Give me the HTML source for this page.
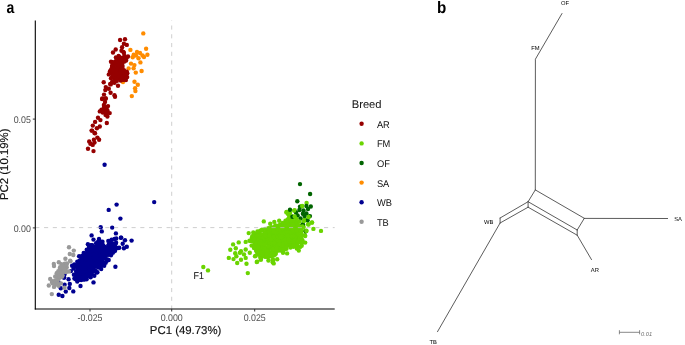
<!DOCTYPE html>
<html><head><meta charset="utf-8"><title>Figure</title>
<style>
html,body{margin:0;padding:0;background:#fff;}
body{width:685px;height:345px;overflow:hidden;font-family:"Liberation Sans",sans-serif;}
svg{display:block}
text{font-family:"Liberation Sans",sans-serif;text-rendering:geometricPrecision;}
.tk{font-size:9.7px;fill:#4d4d4d;}
.ti{font-size:11.4px;fill:#111;stroke:#111;stroke-width:0.15px;}
.lg{font-size:9.7px;fill:#111;}
.pn{font-size:16.5px;font-weight:bold;fill:#000;}
.nl{font-size:5.8px;fill:#000;}
</style></head><body>
<svg width="685" height="345" viewBox="0 0 685 345">
<rect width="685" height="345" fill="#fff"/>
<!-- panel labels -->
<text transform="translate(6.6,12.8) scale(0.85,1)" class="pn">a</text>
<text transform="translate(437.1,12.8) scale(0.92,1)" class="pn">b</text>
<!-- points -->
<g fill="#FF8C00"><circle cx="143.3" cy="33.4" r="2.2"/><circle cx="146.1" cy="48.7" r="2.2"/><circle cx="130.4" cy="49.9" r="2.2"/><circle cx="147.4" cy="54.8" r="2.2"/><circle cx="137" cy="52" r="2.2"/><circle cx="140" cy="53" r="2.2"/><circle cx="133.7" cy="54.7" r="2.2"/><circle cx="144" cy="57" r="2.2"/><circle cx="138.5" cy="58.2" r="2.2"/><circle cx="132.7" cy="57.3" r="2.2"/><circle cx="140.4" cy="62.4" r="2.2"/><circle cx="131" cy="63.6" r="2.2"/><circle cx="134.4" cy="65.1" r="2.2"/><circle cx="133.6" cy="68.2" r="2.2"/><circle cx="141.6" cy="71" r="2.2"/><circle cx="135.8" cy="72.6" r="2.2"/><circle cx="128.6" cy="68.4" r="2.2"/><circle cx="134.5" cy="81.7" r="2.2"/><circle cx="137.8" cy="84.7" r="2.2"/><circle cx="135.1" cy="88.2" r="2.2"/><circle cx="135.4" cy="91.1" r="2.2"/><circle cx="131.8" cy="96.1" r="2.2"/><circle cx="123" cy="82" r="2.2"/><circle cx="142.5" cy="55.5" r="2.2"/><circle cx="136" cy="55.5" r="2.2"/></g>
<g fill="#960000"><circle cx="119.8" cy="74.5" r="2.2"/><circle cx="114.8" cy="63.7" r="2.2"/><circle cx="123.7" cy="59.7" r="2.2"/><circle cx="126.2" cy="75.0" r="2.2"/><circle cx="114.5" cy="73.8" r="2.2"/><circle cx="123.7" cy="78.0" r="2.2"/><circle cx="113.8" cy="82.1" r="2.2"/><circle cx="119.6" cy="57.2" r="2.2"/><circle cx="112.7" cy="67.3" r="2.2"/><circle cx="122.8" cy="75.5" r="2.2"/><circle cx="120.9" cy="62.5" r="2.2"/><circle cx="120.0" cy="64.7" r="2.2"/><circle cx="119.1" cy="73.2" r="2.2"/><circle cx="121.7" cy="70.9" r="2.2"/><circle cx="121.0" cy="77.8" r="2.2"/><circle cx="116.7" cy="74.0" r="2.2"/><circle cx="112.5" cy="81.7" r="2.2"/><circle cx="124.4" cy="61.5" r="2.2"/><circle cx="117.6" cy="78.7" r="2.2"/><circle cx="123.6" cy="70.8" r="2.2"/><circle cx="115.9" cy="57.5" r="2.2"/><circle cx="119.3" cy="76.8" r="2.2"/><circle cx="118.4" cy="75.5" r="2.2"/><circle cx="123.9" cy="53.0" r="2.2"/><circle cx="115.7" cy="61.3" r="2.2"/><circle cx="112.4" cy="74.6" r="2.2"/><circle cx="112.5" cy="66.3" r="2.2"/><circle cx="116.6" cy="64.8" r="2.2"/><circle cx="112.3" cy="62.1" r="2.2"/><circle cx="123.9" cy="70.1" r="2.2"/><circle cx="119.5" cy="63.8" r="2.2"/><circle cx="120.0" cy="59.1" r="2.2"/><circle cx="124.4" cy="55.9" r="2.2"/><circle cx="116.8" cy="80.9" r="2.2"/><circle cx="112.1" cy="77.3" r="2.2"/><circle cx="126.1" cy="60.6" r="2.2"/><circle cx="112.1" cy="65.8" r="2.2"/><circle cx="114.7" cy="79.0" r="2.2"/><circle cx="120.1" cy="57.8" r="2.2"/><circle cx="122.3" cy="65.4" r="2.2"/><circle cx="119.1" cy="69.5" r="2.2"/><circle cx="120.5" cy="69.0" r="2.2"/><circle cx="123.9" cy="73.1" r="2.2"/><circle cx="111.9" cy="68.0" r="2.2"/><circle cx="126.5" cy="57.9" r="2.2"/><circle cx="114.0" cy="65.4" r="2.2"/><circle cx="114.4" cy="81.0" r="2.2"/><circle cx="122.2" cy="60.8" r="2.2"/><circle cx="122.2" cy="63.7" r="2.2"/><circle cx="127.3" cy="73.3" r="2.2"/><circle cx="110.0" cy="71.2" r="2.2"/><circle cx="117.8" cy="72.2" r="2.2"/><circle cx="123.2" cy="78.0" r="2.2"/><circle cx="119.3" cy="61.0" r="2.2"/><circle cx="119.0" cy="67.3" r="2.2"/><circle cx="112.7" cy="73.9" r="2.2"/><circle cx="118.2" cy="57.8" r="2.2"/><circle cx="123.4" cy="79.9" r="2.2"/><circle cx="118.1" cy="60.7" r="2.2"/><circle cx="113.8" cy="76.6" r="2.2"/><circle cx="114.6" cy="68.2" r="2.2"/><circle cx="110.7" cy="84.4" r="2.2"/><circle cx="112.1" cy="82.2" r="2.2"/><circle cx="116.0" cy="69.2" r="2.2"/><circle cx="113.1" cy="62.5" r="2.2"/><circle cx="116.0" cy="77.0" r="2.2"/><circle cx="123.8" cy="77.1" r="2.2"/><circle cx="122.4" cy="58.0" r="2.2"/><circle cx="115.1" cy="70.1" r="2.2"/><circle cx="120.5" cy="72.2" r="2.2"/><circle cx="124.9" cy="75.1" r="2.2"/><circle cx="113.1" cy="71.1" r="2.2"/><circle cx="121.3" cy="73.0" r="2.2"/><circle cx="127.2" cy="77.1" r="2.2"/><circle cx="110.3" cy="72.0" r="2.2"/><circle cx="115.9" cy="74.6" r="2.2"/><circle cx="117.4" cy="67.5" r="2.2"/><circle cx="117.1" cy="62.8" r="2.2"/><circle cx="114.5" cy="71.0" r="2.2"/><circle cx="122.5" cy="66.9" r="2.2"/><circle cx="111.1" cy="69.8" r="2.2"/><circle cx="118.1" cy="65.0" r="2.2"/><circle cx="120.1" cy="40" r="2.2"/><circle cx="125" cy="39.2" r="2.2"/><circle cx="123.9" cy="43.7" r="2.2"/><circle cx="126.8" cy="44.9" r="2.2"/><circle cx="122.1" cy="47.2" r="2.2"/><circle cx="115.7" cy="49.5" r="2.2"/><circle cx="113" cy="52.5" r="2.2"/><circle cx="121.5" cy="50.7" r="2.2"/><circle cx="123.5" cy="52" r="2.2"/><circle cx="118.6" cy="56" r="2.2"/><circle cx="128" cy="56.5" r="2.2"/><circle cx="111" cy="61.8" r="2.2"/><circle cx="103.7" cy="82.3" r="2.2"/><circle cx="110.2" cy="84" r="2.2"/><circle cx="114.5" cy="82.7" r="2.2"/><circle cx="118" cy="85.8" r="2.2"/><circle cx="105.8" cy="87.1" r="2.2"/><circle cx="108.8" cy="88.8" r="2.2"/><circle cx="105.3" cy="90.1" r="2.2"/><circle cx="110.6" cy="92.8" r="2.2"/><circle cx="104" cy="94.6" r="2.2"/><circle cx="114.5" cy="95.3" r="2.2"/><circle cx="102.3" cy="98.5" r="2.2"/><circle cx="105.8" cy="98.5" r="2.2"/><circle cx="125.9" cy="80.1" r="2.2"/><circle cx="122.4" cy="77" r="2.2"/><circle cx="126.8" cy="71.8" r="2.2"/><circle cx="120.7" cy="80.5" r="2.2"/><circle cx="116.3" cy="79.6" r="2.2"/><circle cx="108.8" cy="74.4" r="2.2"/><circle cx="111" cy="78.3" r="2.2"/><circle cx="115" cy="96.8" r="2.2"/><circle cx="102.1" cy="99.1" r="2.2"/><circle cx="105.6" cy="98.5" r="2.2"/><circle cx="105" cy="102" r="2.2"/><circle cx="103.9" cy="104.9" r="2.2"/><circle cx="108" cy="106.1" r="2.2"/><circle cx="99.8" cy="111.4" r="2.2"/><circle cx="105" cy="109.6" r="2.2"/><circle cx="107.4" cy="110.2" r="2.2"/><circle cx="109.7" cy="113.1" r="2.2"/><circle cx="105.6" cy="114.9" r="2.2"/><circle cx="107.4" cy="116.6" r="2.2"/><circle cx="98" cy="117.8" r="2.2"/><circle cx="100.4" cy="120.1" r="2.2"/><circle cx="95.1" cy="121.9" r="2.2"/><circle cx="106.8" cy="123" r="2.2"/><circle cx="92.8" cy="125.6" r="2.2"/><circle cx="99.8" cy="126.5" r="2.2"/><circle cx="96.9" cy="128.3" r="2.2"/><circle cx="91.6" cy="130.6" r="2.2"/><circle cx="94.5" cy="133" r="2.2"/><circle cx="101.5" cy="109.6" r="2.2"/><circle cx="106.5" cy="107.5" r="2.2"/><circle cx="104" cy="107" r="2.2"/><circle cx="102.8" cy="112.5" r="2.2"/><circle cx="104.5" cy="112" r="2.2"/><circle cx="107" cy="113" r="2.2"/><circle cx="92.1" cy="130.6" r="2.2"/><circle cx="95" cy="133.3" r="2.2"/><circle cx="97.4" cy="137.6" r="2.2"/><circle cx="99.1" cy="139.7" r="2.2"/><circle cx="93.9" cy="139.7" r="2.2"/><circle cx="89.2" cy="141.4" r="2.2"/><circle cx="94.5" cy="142.6" r="2.2"/><circle cx="90.4" cy="143.8" r="2.2"/><circle cx="92.7" cy="144.9" r="2.2"/><circle cx="88" cy="148.8" r="2.2"/><circle cx="93.5" cy="151.1" r="2.2"/></g>
<g fill="#6AD400"><circle cx="290.0" cy="244.9" r="2.2"/><circle cx="294.6" cy="237.4" r="2.2"/><circle cx="274.4" cy="229.0" r="2.2"/><circle cx="259.5" cy="233.6" r="2.2"/><circle cx="277.8" cy="234.6" r="2.2"/><circle cx="251.6" cy="245.6" r="2.2"/><circle cx="286.3" cy="235.2" r="2.2"/><circle cx="268.0" cy="257.2" r="2.2"/><circle cx="296.5" cy="241.2" r="2.2"/><circle cx="278.1" cy="227.8" r="2.2"/><circle cx="278.6" cy="226.2" r="2.2"/><circle cx="265.8" cy="250.1" r="2.2"/><circle cx="260.1" cy="246.2" r="2.2"/><circle cx="290.0" cy="244.2" r="2.2"/><circle cx="304.9" cy="235.3" r="2.2"/><circle cx="273.6" cy="239.6" r="2.2"/><circle cx="262.2" cy="253.2" r="2.2"/><circle cx="268.3" cy="252.1" r="2.2"/><circle cx="291.7" cy="229.4" r="2.2"/><circle cx="277.8" cy="230.7" r="2.2"/><circle cx="262.7" cy="235.8" r="2.2"/><circle cx="295.1" cy="234.5" r="2.2"/><circle cx="278.9" cy="245.6" r="2.2"/><circle cx="264.2" cy="239.5" r="2.2"/><circle cx="300.9" cy="229.4" r="2.2"/><circle cx="270.1" cy="233.0" r="2.2"/><circle cx="280.6" cy="242.2" r="2.2"/><circle cx="267.7" cy="234.3" r="2.2"/><circle cx="280.9" cy="245.4" r="2.2"/><circle cx="249.5" cy="240.8" r="2.2"/><circle cx="256.2" cy="250.9" r="2.2"/><circle cx="257.6" cy="239.6" r="2.2"/><circle cx="259.6" cy="247.4" r="2.2"/><circle cx="266.2" cy="232.3" r="2.2"/><circle cx="268.2" cy="232.0" r="2.2"/><circle cx="279.8" cy="226.3" r="2.2"/><circle cx="284.5" cy="249.2" r="2.2"/><circle cx="295.7" cy="229.1" r="2.2"/><circle cx="275.8" cy="253.7" r="2.2"/><circle cx="280.2" cy="239.2" r="2.2"/><circle cx="297.8" cy="240.0" r="2.2"/><circle cx="294.1" cy="223.2" r="2.2"/><circle cx="301.1" cy="226.5" r="2.2"/><circle cx="301.3" cy="238.5" r="2.2"/><circle cx="265.8" cy="237.8" r="2.2"/><circle cx="297.2" cy="228.2" r="2.2"/><circle cx="254.6" cy="238.7" r="2.2"/><circle cx="301.9" cy="230.5" r="2.2"/><circle cx="255.5" cy="236.2" r="2.2"/><circle cx="258.9" cy="240.3" r="2.2"/><circle cx="260.2" cy="257.0" r="2.2"/><circle cx="274.8" cy="242.1" r="2.2"/><circle cx="292.0" cy="222.9" r="2.2"/><circle cx="301.3" cy="233.4" r="2.2"/><circle cx="291.3" cy="238.3" r="2.2"/><circle cx="262.2" cy="249.1" r="2.2"/><circle cx="269.8" cy="256.3" r="2.2"/><circle cx="288.9" cy="215.2" r="2.2"/><circle cx="294.5" cy="242.8" r="2.2"/><circle cx="284.9" cy="246.0" r="2.2"/><circle cx="297.3" cy="223.0" r="2.2"/><circle cx="288.9" cy="227.7" r="2.2"/><circle cx="255.1" cy="239.8" r="2.2"/><circle cx="261.6" cy="242.8" r="2.2"/><circle cx="290.9" cy="232.9" r="2.2"/><circle cx="258.3" cy="252.8" r="2.2"/><circle cx="283.1" cy="234.7" r="2.2"/><circle cx="287.4" cy="230.1" r="2.2"/><circle cx="264.4" cy="240.9" r="2.2"/><circle cx="271.2" cy="233.3" r="2.2"/><circle cx="280.0" cy="248.2" r="2.2"/><circle cx="257.2" cy="252.5" r="2.2"/><circle cx="280.9" cy="239.9" r="2.2"/><circle cx="264.7" cy="245.9" r="2.2"/><circle cx="283.2" cy="238.7" r="2.2"/><circle cx="275.2" cy="225.7" r="2.2"/><circle cx="262.2" cy="250.3" r="2.2"/><circle cx="268.0" cy="252.9" r="2.2"/><circle cx="290.7" cy="226.9" r="2.2"/><circle cx="296.8" cy="245.3" r="2.2"/><circle cx="291.1" cy="233.7" r="2.2"/><circle cx="283.3" cy="250.4" r="2.2"/><circle cx="283.4" cy="231.8" r="2.2"/><circle cx="302.4" cy="240.1" r="2.2"/><circle cx="275.9" cy="251.4" r="2.2"/><circle cx="260.1" cy="238.4" r="2.2"/><circle cx="254.3" cy="245.5" r="2.2"/><circle cx="269.9" cy="252.1" r="2.2"/><circle cx="279.8" cy="234.6" r="2.2"/><circle cx="293.7" cy="233.5" r="2.2"/><circle cx="264.7" cy="255.5" r="2.2"/><circle cx="257.1" cy="237.9" r="2.2"/><circle cx="298.8" cy="231.5" r="2.2"/><circle cx="297.3" cy="243.8" r="2.2"/><circle cx="265.2" cy="256.9" r="2.2"/><circle cx="289.9" cy="230.7" r="2.2"/><circle cx="285.6" cy="222.2" r="2.2"/><circle cx="301.4" cy="236.4" r="2.2"/><circle cx="273.6" cy="234.4" r="2.2"/><circle cx="287.9" cy="245.4" r="2.2"/><circle cx="289.6" cy="222.8" r="2.2"/><circle cx="276.2" cy="237.7" r="2.2"/><circle cx="295.8" cy="222.4" r="2.2"/><circle cx="262.4" cy="238.9" r="2.2"/><circle cx="252.0" cy="241.2" r="2.2"/><circle cx="299.5" cy="236.5" r="2.2"/><circle cx="279.4" cy="232.2" r="2.2"/><circle cx="277.5" cy="232.1" r="2.2"/><circle cx="285.5" cy="230.9" r="2.2"/><circle cx="269.7" cy="254.0" r="2.2"/><circle cx="282.0" cy="225.5" r="2.2"/><circle cx="284.6" cy="243.3" r="2.2"/><circle cx="274.5" cy="247.6" r="2.2"/><circle cx="287.9" cy="243.8" r="2.2"/><circle cx="280.9" cy="224.6" r="2.2"/><circle cx="283.2" cy="223.8" r="2.2"/><circle cx="271.4" cy="245.5" r="2.2"/><circle cx="296.8" cy="248.5" r="2.2"/><circle cx="286.5" cy="248.7" r="2.2"/><circle cx="251.8" cy="237.9" r="2.2"/><circle cx="295.1" cy="236.2" r="2.2"/><circle cx="296.3" cy="225.9" r="2.2"/><circle cx="287.7" cy="219.4" r="2.2"/><circle cx="254.1" cy="242.1" r="2.2"/><circle cx="292.4" cy="216.5" r="2.2"/><circle cx="256.6" cy="233.8" r="2.2"/><circle cx="269.2" cy="248.6" r="2.2"/><circle cx="290.8" cy="239.9" r="2.2"/><circle cx="267.4" cy="238.6" r="2.2"/><circle cx="286.7" cy="240.2" r="2.2"/><circle cx="298.0" cy="231.5" r="2.2"/><circle cx="259.0" cy="249.4" r="2.2"/><circle cx="269.7" cy="244.6" r="2.2"/><circle cx="262.4" cy="246.1" r="2.2"/><circle cx="284.2" cy="235.6" r="2.2"/><circle cx="276.7" cy="225.8" r="2.2"/><circle cx="285.5" cy="220.8" r="2.2"/><circle cx="258.0" cy="242.1" r="2.2"/><circle cx="284.7" cy="233.1" r="2.2"/><circle cx="268.1" cy="249.4" r="2.2"/><circle cx="276.7" cy="230.4" r="2.2"/><circle cx="254.5" cy="247.5" r="2.2"/><circle cx="256.7" cy="246.2" r="2.2"/><circle cx="270.0" cy="228.5" r="2.2"/><circle cx="281.5" cy="246.6" r="2.2"/><circle cx="298.0" cy="237.8" r="2.2"/><circle cx="284.6" cy="241.9" r="2.2"/><circle cx="288.0" cy="233.3" r="2.2"/><circle cx="273.4" cy="252.6" r="2.2"/><circle cx="272.3" cy="248.0" r="2.2"/><circle cx="273.2" cy="255.8" r="2.2"/><circle cx="261.6" cy="255.3" r="2.2"/><circle cx="281.3" cy="244.3" r="2.2"/><circle cx="260.4" cy="254.7" r="2.2"/><circle cx="263.7" cy="242.4" r="2.2"/><circle cx="274.8" cy="230.6" r="2.2"/><circle cx="288.9" cy="234.4" r="2.2"/><circle cx="258.3" cy="237.8" r="2.2"/><circle cx="260.6" cy="250.1" r="2.2"/><circle cx="282.4" cy="242.1" r="2.2"/><circle cx="269.2" cy="237.2" r="2.2"/><circle cx="298.4" cy="240.0" r="2.2"/><circle cx="271.4" cy="256.1" r="2.2"/><circle cx="289.8" cy="236.0" r="2.2"/><circle cx="295.7" cy="231.6" r="2.2"/><circle cx="260.4" cy="234.4" r="2.2"/><circle cx="274.8" cy="227.1" r="2.2"/><circle cx="296.3" cy="235.5" r="2.2"/><circle cx="283.0" cy="252.7" r="2.2"/><circle cx="275.8" cy="233.8" r="2.2"/><circle cx="279.8" cy="228.6" r="2.2"/><circle cx="287.1" cy="226.0" r="2.2"/><circle cx="261.9" cy="247.6" r="2.2"/><circle cx="270.2" cy="247.2" r="2.2"/><circle cx="265.6" cy="247.9" r="2.2"/><circle cx="286.4" cy="223.3" r="2.2"/><circle cx="260.5" cy="236.8" r="2.2"/><circle cx="275.6" cy="242.5" r="2.2"/><circle cx="260.9" cy="241.6" r="2.2"/><circle cx="291.3" cy="227.7" r="2.2"/><circle cx="287.8" cy="213.5" r="2.2"/><circle cx="284.7" cy="226.4" r="2.2"/><circle cx="288.8" cy="232.7" r="2.2"/><circle cx="297.0" cy="246.2" r="2.2"/><circle cx="292.9" cy="231.8" r="2.2"/><circle cx="292.9" cy="243.1" r="2.2"/><circle cx="277.9" cy="250.4" r="2.2"/><circle cx="284.7" cy="229.0" r="2.2"/><circle cx="275.9" cy="238.9" r="2.2"/><circle cx="265.4" cy="243.4" r="2.2"/><circle cx="284.3" cy="237.8" r="2.2"/><circle cx="254.8" cy="246.2" r="2.2"/><circle cx="263.6" cy="250.9" r="2.2"/><circle cx="276.7" cy="239.4" r="2.2"/><circle cx="266.6" cy="250.7" r="2.2"/><circle cx="273.5" cy="243.2" r="2.2"/><circle cx="256.5" cy="250.2" r="2.2"/><circle cx="288.6" cy="219.7" r="2.2"/><circle cx="278.8" cy="250.3" r="2.2"/><circle cx="271.3" cy="229.3" r="2.2"/><circle cx="269.9" cy="234.1" r="2.2"/><circle cx="258.3" cy="254.2" r="2.2"/><circle cx="274.5" cy="245.5" r="2.2"/><circle cx="277.9" cy="243.2" r="2.2"/><circle cx="266.6" cy="240.1" r="2.2"/><circle cx="288.9" cy="213.8" r="2.2"/><circle cx="289.8" cy="240.8" r="2.2"/><circle cx="282.6" cy="223.0" r="2.2"/><circle cx="268.6" cy="243.3" r="2.2"/><circle cx="260.0" cy="251.0" r="2.2"/><circle cx="281.7" cy="232.4" r="2.2"/><circle cx="267.8" cy="241.9" r="2.2"/><circle cx="298.6" cy="241.3" r="2.2"/><circle cx="286.6" cy="237.3" r="2.2"/><circle cx="270.0" cy="230.0" r="2.2"/><circle cx="252.3" cy="236.1" r="2.2"/><circle cx="260.2" cy="244.0" r="2.2"/><circle cx="300.1" cy="246.9" r="2.2"/><circle cx="271.7" cy="248.5" r="2.2"/><circle cx="269.3" cy="241.8" r="2.2"/><circle cx="270.5" cy="243.6" r="2.2"/><circle cx="267.7" cy="230.9" r="2.2"/><circle cx="281.4" cy="249.7" r="2.2"/><circle cx="271.3" cy="236.4" r="2.2"/><circle cx="290.9" cy="220.3" r="2.2"/><circle cx="262.3" cy="237.1" r="2.2"/><circle cx="287.8" cy="241.8" r="2.2"/><circle cx="297.1" cy="224.6" r="2.2"/><circle cx="301.0" cy="228.9" r="2.2"/><circle cx="299.8" cy="242.4" r="2.2"/><circle cx="275.5" cy="232.3" r="2.2"/><circle cx="286.1" cy="227.7" r="2.2"/><circle cx="297.9" cy="234.4" r="2.2"/><circle cx="301.7" cy="241.7" r="2.2"/><circle cx="264.9" cy="247.5" r="2.2"/><circle cx="267.8" cy="238.9" r="2.2"/><circle cx="262.6" cy="234.6" r="2.2"/><circle cx="279.2" cy="220.7" r="2.2"/><circle cx="277.3" cy="247.4" r="2.2"/><circle cx="303.7" cy="227.0" r="2.2"/><circle cx="272.4" cy="241.8" r="2.2"/><circle cx="275.9" cy="244.6" r="2.2"/><circle cx="261.5" cy="252.6" r="2.2"/><circle cx="280.4" cy="236.2" r="2.2"/><circle cx="265.8" cy="236.2" r="2.2"/><circle cx="260.2" cy="230.7" r="2.2"/><circle cx="253.9" cy="233.9" r="2.2"/><circle cx="303.1" cy="242.2" r="2.2"/><circle cx="284.7" cy="239.7" r="2.2"/><circle cx="294.8" cy="224.0" r="2.2"/><circle cx="298.1" cy="230.2" r="2.2"/><circle cx="293.0" cy="239.1" r="2.2"/><circle cx="301.2" cy="231.7" r="2.2"/><circle cx="272.2" cy="237.2" r="2.2"/><circle cx="283.5" cy="246.8" r="2.2"/><circle cx="292.2" cy="241.8" r="2.2"/><circle cx="289.2" cy="226.9" r="2.2"/><circle cx="276.8" cy="236.3" r="2.2"/><circle cx="285.4" cy="243.2" r="2.2"/><circle cx="264.5" cy="244.3" r="2.2"/><circle cx="274.6" cy="243.0" r="2.2"/><circle cx="282.5" cy="230.9" r="2.2"/><circle cx="292.9" cy="228.0" r="2.2"/><circle cx="268.4" cy="254.2" r="2.2"/><circle cx="299.1" cy="225.5" r="2.2"/><circle cx="293.4" cy="241.5" r="2.2"/><circle cx="257.9" cy="245.2" r="2.2"/><circle cx="274.4" cy="237.8" r="2.2"/><circle cx="278.5" cy="250.1" r="2.2"/><circle cx="285.7" cy="225.0" r="2.2"/><circle cx="265.4" cy="234.3" r="2.2"/><circle cx="264.9" cy="253.4" r="2.2"/><circle cx="288.7" cy="224.8" r="2.2"/><circle cx="250.5" cy="241.1" r="2.2"/><circle cx="256.8" cy="235.6" r="2.2"/><circle cx="262.2" cy="256.2" r="2.2"/><circle cx="282.3" cy="236.4" r="2.2"/><circle cx="272.1" cy="251.9" r="2.2"/><circle cx="295.0" cy="239.0" r="2.2"/><circle cx="256.2" cy="242.1" r="2.2"/><circle cx="254.0" cy="239.0" r="2.2"/><circle cx="265.1" cy="228.9" r="2.2"/><circle cx="286.2" cy="246.9" r="2.2"/><circle cx="280.2" cy="229.9" r="2.2"/><circle cx="268.4" cy="247.0" r="2.2"/><circle cx="280.9" cy="250.5" r="2.2"/><circle cx="271.5" cy="227.2" r="2.2"/><circle cx="291.1" cy="224.6" r="2.2"/><circle cx="272.6" cy="253.0" r="2.2"/><circle cx="290.5" cy="247.6" r="2.2"/><circle cx="293.7" cy="225.6" r="2.2"/><circle cx="273.3" cy="260.0" r="2.2"/><circle cx="262.2" cy="230.5" r="2.2"/><circle cx="282.6" cy="245.3" r="2.2"/><circle cx="273.7" cy="231.4" r="2.2"/><circle cx="258.1" cy="247.0" r="2.2"/><circle cx="268.4" cy="260.6" r="2.2"/><circle cx="269.1" cy="235.3" r="2.2"/><circle cx="288.7" cy="239.6" r="2.2"/><circle cx="293.0" cy="230.3" r="2.2"/><circle cx="273.8" cy="227.8" r="2.2"/><circle cx="257.6" cy="250.9" r="2.2"/><circle cx="279.8" cy="224.9" r="2.2"/><circle cx="294.1" cy="217.2" r="2.2"/><circle cx="282.5" cy="229.1" r="2.2"/><circle cx="266.3" cy="254.2" r="2.2"/><circle cx="279.2" cy="241.0" r="2.2"/><circle cx="298.4" cy="227.4" r="2.2"/><circle cx="270.9" cy="239.2" r="2.2"/><circle cx="275.6" cy="235.9" r="2.2"/><circle cx="293.4" cy="246.7" r="2.2"/><circle cx="278.7" cy="237.2" r="2.2"/><circle cx="283.4" cy="249.6" r="2.2"/><circle cx="295.7" cy="221.6" r="2.2"/><circle cx="292.9" cy="220.2" r="2.2"/><circle cx="272.7" cy="262.3" r="2.2"/><circle cx="254.0" cy="248.0" r="2.2"/><circle cx="301.6" cy="225.4" r="2.2"/><circle cx="257.6" cy="243.5" r="2.2"/><circle cx="294.0" cy="245.3" r="2.2"/><circle cx="295.6" cy="237.0" r="2.2"/><circle cx="255.8" cy="243.6" r="2.2"/><circle cx="292.4" cy="224.6" r="2.2"/><circle cx="288.7" cy="237.1" r="2.2"/><circle cx="296.6" cy="230.3" r="2.2"/><circle cx="273.4" cy="248.8" r="2.2"/><circle cx="293.5" cy="236.0" r="2.2"/><circle cx="273.8" cy="236.4" r="2.2"/><circle cx="286.5" cy="232.1" r="2.2"/><circle cx="264.9" cy="232.8" r="2.2"/><circle cx="280.9" cy="237.0" r="2.2"/><circle cx="255.7" cy="255.7" r="2.2"/><circle cx="264.9" cy="235.1" r="2.2"/><circle cx="279.3" cy="244.1" r="2.2"/><circle cx="268.2" cy="246.3" r="2.2"/><circle cx="274.6" cy="254.9" r="2.2"/><circle cx="287.7" cy="235.6" r="2.2"/><circle cx="270.2" cy="254.9" r="2.2"/><circle cx="288.8" cy="218.7" r="2.2"/><circle cx="276.4" cy="248.7" r="2.2"/><circle cx="268.3" cy="228.1" r="2.2"/><circle cx="203.3" cy="267" r="2.2"/><circle cx="208" cy="270.4" r="2.2"/><circle cx="247.8" cy="273.1" r="2.2"/><circle cx="237.2" cy="263" r="2.2"/><circle cx="246.5" cy="263.8" r="2.2"/><circle cx="228.8" cy="257.9" r="2.2"/><circle cx="233.5" cy="259.1" r="2.2"/><circle cx="236.4" cy="256.2" r="2.2"/><circle cx="241" cy="259.7" r="2.2"/><circle cx="245.7" cy="257.9" r="2.2"/><circle cx="256.8" cy="262" r="2.2"/><circle cx="260.9" cy="259.7" r="2.2"/><circle cx="230.3" cy="249.8" r="2.2"/><circle cx="235.2" cy="253.3" r="2.2"/><circle cx="239.9" cy="252.7" r="2.2"/><circle cx="244" cy="254.4" r="2.2"/><circle cx="249.8" cy="252.7" r="2.2"/><circle cx="255" cy="256.2" r="2.2"/><circle cx="238.7" cy="242.4" r="2.2"/><circle cx="245.7" cy="241.9" r="2.2"/><circle cx="233.1" cy="244.4" r="2.2"/><circle cx="235.8" cy="248.3" r="2.2"/><circle cx="245.7" cy="249.5" r="2.2"/><circle cx="241" cy="251.2" r="2.2"/><circle cx="248.7" cy="233.1" r="2.2"/><circle cx="253.3" cy="232.5" r="2.2"/><circle cx="257.4" cy="231.4" r="2.2"/><circle cx="262" cy="229.6" r="2.2"/><circle cx="263.8" cy="221.4" r="2.2"/><circle cx="274.3" cy="221.9" r="2.2"/><circle cx="270.2" cy="223.7" r="2.2"/><circle cx="286.5" cy="212" r="2.2"/><circle cx="294.7" cy="210.3" r="2.2"/><circle cx="301.7" cy="206.2" r="2.2"/><circle cx="306.6" cy="203" r="2.2"/><circle cx="308.7" cy="216.7" r="2.2"/><circle cx="304.6" cy="219.6" r="2.2"/><circle cx="312" cy="222.5" r="2.2"/><circle cx="308.1" cy="224.3" r="2.2"/><circle cx="313.4" cy="228.9" r="2.2"/><circle cx="321" cy="230.9" r="2.2"/><circle cx="306.4" cy="230.7" r="2.2"/><circle cx="305.2" cy="236" r="2.2"/><circle cx="305.2" cy="242.6" r="2.2"/><circle cx="301.7" cy="245.8" r="2.2"/><circle cx="298.8" cy="250.5" r="2.2"/><circle cx="287.1" cy="253.4" r="2.2"/><circle cx="277.2" cy="259.3" r="2.2"/><circle cx="273.7" cy="263.4" r="2.2"/><circle cx="272.5" cy="259.9" r="2.2"/><circle cx="260.8" cy="258.7" r="2.2"/><circle cx="257.3" cy="261.6" r="2.2"/><circle cx="290" cy="213" r="2.2"/><circle cx="286.5" cy="212.4" r="2.2"/></g>
<g fill="#006400"><circle cx="300" cy="184.1" r="2.2"/><circle cx="310.1" cy="194" r="2.2"/><circle cx="297.3" cy="201.3" r="2.2"/><circle cx="310.8" cy="206.5" r="2.2"/><circle cx="306.4" cy="206" r="2.2"/><circle cx="300" cy="206.7" r="2.2"/><circle cx="290" cy="209.7" r="2.2"/><circle cx="299.4" cy="210" r="2.2"/><circle cx="302.9" cy="213.8" r="2.2"/><circle cx="306.4" cy="213.4" r="2.2"/><circle cx="297.6" cy="215.5" r="2.2"/><circle cx="309.9" cy="216.1" r="2.2"/><circle cx="304.6" cy="216.1" r="2.2"/><circle cx="292.4" cy="216.7" r="2.2"/><circle cx="302.9" cy="224.3" r="2.2"/><circle cx="307.6" cy="220.2" r="2.2"/><circle cx="305.8" cy="231.3" r="2.2"/><circle cx="308" cy="209" r="2.2"/><circle cx="303.5" cy="210.5" r="2.2"/><circle cx="300.5" cy="218.5" r="2.2"/><circle cx="296" cy="212.5" r="2.2"/></g>
<g fill="#6AD400"><circle cx="302.2" cy="206" r="2.2"/><circle cx="294.1" cy="210.6" r="2.2"/><circle cx="294.7" cy="216.4" r="2.2"/><circle cx="308.6" cy="217" r="2.2"/><circle cx="304" cy="221" r="2.2"/><circle cx="312" cy="222.6" r="2.2"/><circle cx="308.6" cy="224.5" r="2.2"/><circle cx="306.3" cy="230.9" r="2.2"/><circle cx="299.5" cy="221.5" r="2.2"/><circle cx="302.5" cy="226.5" r="2.2"/><circle cx="296.5" cy="219" r="2.2"/></g>
<g fill="#000090"><circle cx="87.4" cy="267.2" r="2.2"/><circle cx="89.0" cy="247.1" r="2.2"/><circle cx="98.0" cy="245.0" r="2.2"/><circle cx="80.6" cy="262.2" r="2.2"/><circle cx="93.8" cy="263.9" r="2.2"/><circle cx="79.8" cy="262.0" r="2.2"/><circle cx="108.3" cy="245.8" r="2.2"/><circle cx="73.9" cy="274.8" r="2.2"/><circle cx="96.1" cy="243.2" r="2.2"/><circle cx="101.7" cy="249.7" r="2.2"/><circle cx="84.9" cy="258.7" r="2.2"/><circle cx="74.3" cy="264.5" r="2.2"/><circle cx="91.5" cy="249.4" r="2.2"/><circle cx="87.2" cy="256.3" r="2.2"/><circle cx="111.0" cy="244.5" r="2.2"/><circle cx="97.4" cy="272.3" r="2.2"/><circle cx="78.4" cy="268.5" r="2.2"/><circle cx="81.1" cy="257.2" r="2.2"/><circle cx="115.6" cy="248.3" r="2.2"/><circle cx="80.5" cy="262.8" r="2.2"/><circle cx="102.8" cy="248.6" r="2.2"/><circle cx="93.7" cy="268.4" r="2.2"/><circle cx="77.9" cy="267.5" r="2.2"/><circle cx="82.7" cy="264.1" r="2.2"/><circle cx="99.8" cy="241.3" r="2.2"/><circle cx="79.5" cy="260.8" r="2.2"/><circle cx="90.8" cy="269.0" r="2.2"/><circle cx="76.5" cy="272.1" r="2.2"/><circle cx="103.9" cy="255.4" r="2.2"/><circle cx="98.0" cy="267.5" r="2.2"/><circle cx="88.1" cy="276.0" r="2.2"/><circle cx="89.1" cy="258.9" r="2.2"/><circle cx="90.6" cy="277.2" r="2.2"/><circle cx="79.8" cy="270.3" r="2.2"/><circle cx="93.0" cy="259.3" r="2.2"/><circle cx="99.1" cy="256.4" r="2.2"/><circle cx="86.4" cy="259.4" r="2.2"/><circle cx="87.1" cy="269.0" r="2.2"/><circle cx="92.0" cy="245.2" r="2.2"/><circle cx="92.3" cy="255.0" r="2.2"/><circle cx="85.1" cy="267.9" r="2.2"/><circle cx="97.9" cy="262.4" r="2.2"/><circle cx="101.3" cy="265.7" r="2.2"/><circle cx="93.1" cy="267.1" r="2.2"/><circle cx="101.2" cy="257.7" r="2.2"/><circle cx="93.4" cy="251.7" r="2.2"/><circle cx="98.1" cy="250.3" r="2.2"/><circle cx="77.5" cy="271.7" r="2.2"/><circle cx="105.7" cy="262.8" r="2.2"/><circle cx="96.1" cy="261.3" r="2.2"/><circle cx="102.5" cy="261.2" r="2.2"/><circle cx="73.6" cy="268.6" r="2.2"/><circle cx="99.2" cy="264.9" r="2.2"/><circle cx="106.0" cy="254.8" r="2.2"/><circle cx="86.4" cy="271.6" r="2.2"/><circle cx="81.2" cy="280.0" r="2.2"/><circle cx="81.6" cy="258.1" r="2.2"/><circle cx="87.9" cy="273.1" r="2.2"/><circle cx="89.2" cy="257.0" r="2.2"/><circle cx="98.6" cy="242.9" r="2.2"/><circle cx="89.6" cy="273.7" r="2.2"/><circle cx="110.1" cy="251.3" r="2.2"/><circle cx="110.1" cy="253.2" r="2.2"/><circle cx="94.7" cy="266.2" r="2.2"/><circle cx="101.3" cy="250.9" r="2.2"/><circle cx="87.4" cy="251.1" r="2.2"/><circle cx="98.1" cy="245.4" r="2.2"/><circle cx="112.9" cy="247.6" r="2.2"/><circle cx="82.8" cy="278.9" r="2.2"/><circle cx="104.2" cy="265.7" r="2.2"/><circle cx="86.2" cy="261.3" r="2.2"/><circle cx="82.4" cy="273.2" r="2.2"/><circle cx="100.2" cy="248.1" r="2.2"/><circle cx="82.9" cy="261.8" r="2.2"/><circle cx="98.0" cy="256.5" r="2.2"/><circle cx="83.6" cy="279.3" r="2.2"/><circle cx="115.6" cy="243.7" r="2.2"/><circle cx="77.3" cy="281.6" r="2.2"/><circle cx="94.2" cy="254.5" r="2.2"/><circle cx="79.4" cy="273.0" r="2.2"/><circle cx="91.4" cy="257.8" r="2.2"/><circle cx="96.3" cy="254.5" r="2.2"/><circle cx="80.1" cy="275.1" r="2.2"/><circle cx="95.0" cy="249.1" r="2.2"/><circle cx="116.1" cy="242.8" r="2.2"/><circle cx="84.1" cy="270.9" r="2.2"/><circle cx="98.4" cy="251.4" r="2.2"/><circle cx="108.3" cy="240.9" r="2.2"/><circle cx="89.0" cy="267.6" r="2.2"/><circle cx="84.8" cy="272.2" r="2.2"/><circle cx="79.8" cy="279.7" r="2.2"/><circle cx="81.2" cy="264.5" r="2.2"/><circle cx="102.6" cy="253.2" r="2.2"/><circle cx="93.7" cy="246.8" r="2.2"/><circle cx="91.6" cy="263.0" r="2.2"/><circle cx="104.4" cy="246.7" r="2.2"/><circle cx="107.8" cy="247.5" r="2.2"/><circle cx="81.2" cy="277.2" r="2.2"/><circle cx="86.7" cy="249.8" r="2.2"/><circle cx="109.2" cy="250.5" r="2.2"/><circle cx="78.0" cy="278.6" r="2.2"/><circle cx="111.7" cy="246.1" r="2.2"/><circle cx="90.9" cy="245.2" r="2.2"/><circle cx="96.1" cy="252.1" r="2.2"/><circle cx="79.3" cy="264.8" r="2.2"/><circle cx="96.5" cy="272.6" r="2.2"/><circle cx="87.9" cy="261.0" r="2.2"/><circle cx="88.3" cy="254.7" r="2.2"/><circle cx="113.6" cy="246.6" r="2.2"/><circle cx="94.3" cy="275.7" r="2.2"/><circle cx="96.8" cy="246.2" r="2.2"/><circle cx="87.7" cy="249.9" r="2.2"/><circle cx="105.0" cy="248.0" r="2.2"/><circle cx="98.2" cy="257.1" r="2.2"/><circle cx="78.3" cy="274.6" r="2.2"/><circle cx="112.2" cy="243.3" r="2.2"/><circle cx="83.0" cy="275.6" r="2.2"/><circle cx="76.3" cy="276.4" r="2.2"/><circle cx="84.9" cy="268.7" r="2.2"/><circle cx="99.9" cy="263.2" r="2.2"/><circle cx="76.1" cy="266.5" r="2.2"/><circle cx="91.4" cy="255.2" r="2.2"/><circle cx="86.9" cy="263.0" r="2.2"/><circle cx="91.9" cy="272.4" r="2.2"/><circle cx="102.2" cy="250.7" r="2.2"/><circle cx="95.2" cy="270.7" r="2.2"/><circle cx="104.5" cy="253.0" r="2.2"/><circle cx="98.2" cy="254.1" r="2.2"/><circle cx="86.8" cy="253.6" r="2.2"/><circle cx="91.0" cy="247.4" r="2.2"/><circle cx="108.0" cy="254.9" r="2.2"/><circle cx="104.9" cy="256.9" r="2.2"/><circle cx="103.2" cy="245.5" r="2.2"/><circle cx="90.3" cy="276.9" r="2.2"/><circle cx="101.8" cy="245.8" r="2.2"/><circle cx="109.2" cy="252.0" r="2.2"/><circle cx="86.6" cy="279.2" r="2.2"/><circle cx="86.3" cy="276.6" r="2.2"/><circle cx="92.4" cy="245.6" r="2.2"/><circle cx="92.0" cy="268.5" r="2.2"/><circle cx="83.9" cy="265.2" r="2.2"/><circle cx="87.0" cy="257.8" r="2.2"/><circle cx="101.3" cy="259.4" r="2.2"/><circle cx="107.4" cy="252.9" r="2.2"/><circle cx="96.9" cy="256.7" r="2.2"/><circle cx="79.7" cy="277.5" r="2.2"/><circle cx="81.3" cy="267.1" r="2.2"/><circle cx="90.7" cy="265.5" r="2.2"/><circle cx="101.2" cy="254.2" r="2.2"/><circle cx="88.8" cy="251.9" r="2.2"/><circle cx="94.9" cy="261.1" r="2.2"/><circle cx="99.4" cy="267.1" r="2.2"/><circle cx="82.0" cy="259.8" r="2.2"/><circle cx="89.3" cy="275.3" r="2.2"/><circle cx="115.0" cy="246.2" r="2.2"/><circle cx="80.9" cy="269.2" r="2.2"/><circle cx="110.7" cy="248.4" r="2.2"/><circle cx="95.8" cy="265.2" r="2.2"/><circle cx="84.2" cy="253.7" r="2.2"/><circle cx="109.0" cy="246.5" r="2.2"/><circle cx="92.9" cy="254.2" r="2.2"/><circle cx="105.8" cy="248.6" r="2.2"/><circle cx="103.8" cy="258.6" r="2.2"/><circle cx="91.0" cy="259.8" r="2.2"/><circle cx="74.4" cy="278.6" r="2.2"/><circle cx="77.3" cy="261.7" r="2.2"/><circle cx="88.1" cy="263.3" r="2.2"/><circle cx="77.6" cy="268.7" r="2.2"/><circle cx="106.7" cy="260.7" r="2.2"/><circle cx="91.5" cy="262.2" r="2.2"/><circle cx="106.3" cy="251.8" r="2.2"/><circle cx="75.5" cy="265.2" r="2.2"/><circle cx="86.0" cy="258.0" r="2.2"/><circle cx="90.3" cy="253.9" r="2.2"/><circle cx="98.1" cy="241.6" r="2.2"/><circle cx="95.2" cy="247.9" r="2.2"/><circle cx="97.7" cy="247.2" r="2.2"/><circle cx="76.1" cy="274.8" r="2.2"/><circle cx="84.6" cy="274.4" r="2.2"/><circle cx="103.8" cy="252.6" r="2.2"/><circle cx="83.9" cy="278.5" r="2.2"/><circle cx="91.5" cy="246.1" r="2.2"/><circle cx="102.4" cy="244.6" r="2.2"/><circle cx="98.1" cy="262.0" r="2.2"/><circle cx="85.4" cy="254.0" r="2.2"/><circle cx="96.2" cy="259.6" r="2.2"/><circle cx="85.3" cy="265.9" r="2.2"/><circle cx="79.8" cy="267.8" r="2.2"/><circle cx="94.5" cy="255.1" r="2.2"/><circle cx="108.9" cy="244.3" r="2.2"/><circle cx="91.3" cy="274.4" r="2.2"/><circle cx="83.7" cy="252.9" r="2.2"/><circle cx="99.7" cy="244.5" r="2.2"/><circle cx="84.2" cy="279.5" r="2.2"/><circle cx="91.0" cy="270.6" r="2.2"/><circle cx="84.0" cy="256.2" r="2.2"/><circle cx="90.2" cy="251.3" r="2.2"/><circle cx="95.7" cy="249.7" r="2.2"/><circle cx="82.9" cy="271.5" r="2.2"/><circle cx="76.1" cy="271.1" r="2.2"/><circle cx="102.5" cy="263.8" r="2.2"/><circle cx="82.7" cy="268.5" r="2.2"/><circle cx="109.8" cy="241.2" r="2.2"/><circle cx="114.0" cy="248.8" r="2.2"/><circle cx="96.2" cy="263.7" r="2.2"/><circle cx="84.9" cy="263.8" r="2.2"/><circle cx="93.9" cy="257.4" r="2.2"/><circle cx="101.4" cy="255.3" r="2.2"/><circle cx="90.5" cy="249.6" r="2.2"/><circle cx="94.2" cy="265.6" r="2.2"/><circle cx="90.3" cy="261.8" r="2.2"/><circle cx="83.5" cy="257.0" r="2.2"/><circle cx="105.3" cy="249.9" r="2.2"/><circle cx="80.3" cy="272.0" r="2.2"/><circle cx="106.9" cy="259.3" r="2.2"/><circle cx="93.1" cy="247.3" r="2.2"/><circle cx="79.9" cy="277.8" r="2.2"/><circle cx="83.2" cy="277.3" r="2.2"/><circle cx="88.9" cy="271.7" r="2.2"/><circle cx="91.2" cy="266.6" r="2.2"/><circle cx="88.2" cy="250.7" r="2.2"/><circle cx="75.8" cy="279.2" r="2.2"/><circle cx="97.5" cy="259.7" r="2.2"/><circle cx="102.6" cy="257.2" r="2.2"/><circle cx="82.0" cy="256.0" r="2.2"/><circle cx="112.8" cy="252.8" r="2.2"/><circle cx="99.0" cy="260.3" r="2.2"/><circle cx="101.2" cy="269.0" r="2.2"/><circle cx="77.4" cy="265.1" r="2.2"/><circle cx="110.2" cy="242.8" r="2.2"/><circle cx="99.6" cy="251.0" r="2.2"/><circle cx="100.3" cy="261.8" r="2.2"/><circle cx="92.8" cy="264.3" r="2.2"/><circle cx="107.5" cy="250.7" r="2.2"/><circle cx="93.4" cy="271.4" r="2.2"/><circle cx="102.5" cy="241.8" r="2.2"/><circle cx="86.2" cy="275.5" r="2.2"/><circle cx="87.2" cy="264.9" r="2.2"/><circle cx="104.6" cy="164.8" r="2.2"/><circle cx="154.2" cy="202.1" r="2.2"/><circle cx="116.6" cy="204.6" r="2.2"/><circle cx="108.7" cy="209.9" r="2.2"/><circle cx="120.4" cy="218.6" r="2.2"/><circle cx="100.7" cy="227.2" r="2.2"/><circle cx="112.2" cy="227.6" r="2.2"/><circle cx="101.8" cy="231.4" r="2.2"/><circle cx="115.9" cy="233.4" r="2.2"/><circle cx="91.6" cy="235.4" r="2.2"/><circle cx="93.5" cy="239.6" r="2.2"/><circle cx="99" cy="239" r="2.2"/><circle cx="87.9" cy="244.3" r="2.2"/><circle cx="79.1" cy="256.3" r="2.2"/><circle cx="120.9" cy="237.8" r="2.2"/><circle cx="125" cy="240.2" r="2.2"/><circle cx="131.6" cy="240.6" r="2.2"/><circle cx="122.7" cy="243.7" r="2.2"/><circle cx="126.8" cy="246.8" r="2.2"/><circle cx="123.9" cy="248.2" r="2.2"/><circle cx="119.2" cy="247.8" r="2.2"/><circle cx="114.5" cy="239" r="2.2"/><circle cx="111.6" cy="239.6" r="2.2"/><circle cx="115.1" cy="250.7" r="2.2"/><circle cx="111" cy="255.2" r="2.2"/><circle cx="108.7" cy="260" r="2.2"/><circle cx="115.4" cy="266.8" r="2.2"/><circle cx="118" cy="248" r="2.2"/><circle cx="113.7" cy="251.5" r="2.2"/><circle cx="116.3" cy="238.5" r="2.2"/><circle cx="121.2" cy="237.6" r="2.2"/><circle cx="63.9" cy="277.5" r="2.2"/><circle cx="68.6" cy="279.3" r="2.2"/><circle cx="69.8" cy="283.9" r="2.2"/><circle cx="64.6" cy="284.8" r="2.2"/><circle cx="60.8" cy="288.2" r="2.2"/><circle cx="69.3" cy="288" r="2.2"/><circle cx="73.3" cy="291.4" r="2.2"/><circle cx="65.8" cy="291.6" r="2.2"/><circle cx="58.7" cy="294.8" r="2.2"/><circle cx="62.4" cy="296" r="2.2"/><circle cx="80.5" cy="286" r="2.2"/><circle cx="93.5" cy="282.4" r="2.2"/><circle cx="72.1" cy="265.8" r="2.2"/><circle cx="70.9" cy="271.1" r="2.2"/><circle cx="64.5" cy="274.6" r="2.2"/><circle cx="64.1" cy="277.6" r="2.2"/><circle cx="58.4" cy="282" r="2.2"/></g>
<g fill="#999999"><circle cx="58.5" cy="285.7" r="2.2"/><circle cx="64.8" cy="263.8" r="2.2"/><circle cx="57.1" cy="281.7" r="2.2"/><circle cx="60.2" cy="271.8" r="2.2"/><circle cx="60.1" cy="267.3" r="2.2"/><circle cx="66.1" cy="272.1" r="2.2"/><circle cx="58.3" cy="271.3" r="2.2"/><circle cx="56.4" cy="281.4" r="2.2"/><circle cx="54.7" cy="284.8" r="2.2"/><circle cx="52.4" cy="281.2" r="2.2"/><circle cx="66.7" cy="267.3" r="2.2"/><circle cx="58.1" cy="279.4" r="2.2"/><circle cx="60.0" cy="269.4" r="2.2"/><circle cx="62.1" cy="270.0" r="2.2"/><circle cx="57.5" cy="279.9" r="2.2"/><circle cx="59.6" cy="276.0" r="2.2"/><circle cx="59.7" cy="277.7" r="2.2"/><circle cx="64.0" cy="270.3" r="2.2"/><circle cx="55.2" cy="283.5" r="2.2"/><circle cx="61.1" cy="276.0" r="2.2"/><circle cx="58.2" cy="276.3" r="2.2"/><circle cx="56.6" cy="276.8" r="2.2"/><circle cx="62.6" cy="275.6" r="2.2"/><circle cx="62.7" cy="267.5" r="2.2"/><circle cx="56.7" cy="273.3" r="2.2"/><circle cx="63.3" cy="272.0" r="2.2"/><circle cx="64.5" cy="268.2" r="2.2"/><circle cx="55.8" cy="283.3" r="2.2"/><circle cx="51.9" cy="281.9" r="2.2"/><circle cx="60.0" cy="272.7" r="2.2"/><circle cx="61.4" cy="273.6" r="2.2"/><circle cx="61.4" cy="264.1" r="2.2"/><circle cx="69" cy="247.2" r="2.2"/><circle cx="73.8" cy="250.6" r="2.2"/><circle cx="69.8" cy="254" r="2.2"/><circle cx="73.3" cy="255" r="2.2"/><circle cx="65.4" cy="258.7" r="2.2"/><circle cx="70.2" cy="260.6" r="2.2"/><circle cx="58.8" cy="262.2" r="2.2"/><circle cx="53.8" cy="264" r="2.2"/><circle cx="66.9" cy="263.5" r="2.2"/><circle cx="54" cy="266.1" r="2.2"/><circle cx="66.3" cy="264.8" r="2.2"/><circle cx="70.4" cy="261.2" r="2.2"/><circle cx="63.4" cy="267" r="2.2"/><circle cx="59.9" cy="268.8" r="2.2"/><circle cx="65.7" cy="269.9" r="2.2"/><circle cx="57.5" cy="272.8" r="2.2"/><circle cx="62.2" cy="272.8" r="2.2"/><circle cx="55.2" cy="276.4" r="2.2"/><circle cx="59.9" cy="276.4" r="2.2"/><circle cx="50.2" cy="278.9" r="2.2"/><circle cx="55.2" cy="280.4" r="2.2"/><circle cx="52.8" cy="283.4" r="2.2"/><circle cx="48.8" cy="285.5" r="2.2"/><circle cx="57.5" cy="284.5" r="2.2"/><circle cx="61" cy="283.4" r="2.2"/><circle cx="54" cy="286.9" r="2.2"/><circle cx="64.5" cy="287.8" r="2.2"/><circle cx="51.8" cy="294.1" r="2.2"/><circle cx="68.9" cy="271.5" r="2.2"/><circle cx="61.9" cy="276.8" r="2.2"/></g>
<!-- dashed ref lines -->
<g stroke="#bebebe" stroke-width="1" stroke-dasharray="4.1 4.65" fill="none" opacity="0.75">
<line x1="35.3" y1="227.6" x2="334.7" y2="227.6" stroke-dashoffset="0"/>
<line x1="171.7" y1="309.6" x2="171.7" y2="20.4"/>
</g>
<!-- axes -->
<g stroke="#000" stroke-width="1.1" fill="none">
<line x1="35.3" y1="20.4" x2="35.3" y2="309.5"/>
<line x1="34.8" y1="309" x2="334.7" y2="309"/>
</g>
<g stroke="#333" stroke-width="1">
<line x1="32.8" y1="119.1" x2="35.3" y2="119.1"/>
<line x1="32.8" y1="227.9" x2="35.3" y2="227.9"/>
<line x1="90" y1="309" x2="90" y2="311.5"/>
<line x1="171.7" y1="309" x2="171.7" y2="311.5"/>
<line x1="254.7" y1="309" x2="254.7" y2="311.5"/>
</g>
<text transform="translate(30.9,122.8) scale(0.912,1)" text-anchor="end" class="tk">0.05</text>
<text transform="translate(30.9,231.6) scale(0.912,1)" text-anchor="end" class="tk">0.00</text>
<text transform="translate(90,320.8) scale(0.912,1)" text-anchor="middle" class="tk">-0.025</text>
<text transform="translate(171.7,320.8) scale(0.912,1)" text-anchor="middle" class="tk">0.000</text>
<text transform="translate(254.7,320.8) scale(0.912,1)" text-anchor="middle" class="tk">0.025</text>
<text x="185.6" y="334.3" text-anchor="middle" class="ti">PC1 (49.73%)</text>
<text transform="translate(7.9,164.3) rotate(-90)" text-anchor="middle" class="ti">PC2 (10.19%)</text>
<text x="193.6" y="278.6" style="font-size:10px;fill:#1a1a1a;stroke:#1a1a1a;stroke-width:0.15px" textLength="10.2" lengthAdjust="spacingAndGlyphs">F1</text>
<!-- legend -->
<text x="351.7" y="107.6" style="font-size:11.2px;fill:#111">Breed</text>
<circle cx="361.6" cy="123.8" r="2.2" fill="#960000"/><text transform="translate(376.9,127.7) scale(0.96,1)" class="lg">AR</text>
<circle cx="361.6" cy="143.4" r="2.2" fill="#6AD400"/><text transform="translate(376.9,147.3) scale(0.96,1)" class="lg">FM</text>
<circle cx="361.6" cy="163.0" r="2.2" fill="#006400"/><text transform="translate(376.9,166.9) scale(0.96,1)" class="lg">OF</text>
<circle cx="361.6" cy="182.6" r="2.2" fill="#FF8C00"/><text transform="translate(376.9,186.5) scale(0.96,1)" class="lg">SA</text>
<circle cx="361.6" cy="202.2" r="2.2" fill="#000090"/><text transform="translate(376.9,206.1) scale(0.96,1)" class="lg">WB</text>
<circle cx="361.6" cy="221.8" r="2.2" fill="#999999"/><text transform="translate(376.9,225.7) scale(0.96,1)" class="lg">TB</text>

<!-- network -->
<g stroke="#4a4a4a" stroke-width="0.9" fill="none" stroke-linecap="round">
<polyline points="562,13.5 535.4,59.2 535.3,189.9"/>
<line x1="535.3" y1="189.9" x2="584.3" y2="218.3"/>
<line x1="535.3" y1="189.9" x2="528.1" y2="201.7"/>
<line x1="528.1" y1="201.7" x2="577.2" y2="230"/>
<line x1="584.3" y1="218.3" x2="577.2" y2="230"/>
<line x1="528.1" y1="201.7" x2="528.1" y2="207.2"/>
<line x1="528.1" y1="207.2" x2="577.2" y2="235.2"/>
<line x1="577.2" y1="230" x2="577.2" y2="235.2"/>
<line x1="528.1" y1="201.7" x2="500.1" y2="218"/>
<line x1="528.1" y1="207.2" x2="500.1" y2="223"/>
<line x1="500.1" y1="218" x2="500.1" y2="223"/>
<line x1="584.3" y1="218.4" x2="667.6" y2="218.5"/>
<line x1="577.2" y1="235.2" x2="591.5" y2="259.6"/>
<line x1="500.1" y1="223" x2="437.5" y2="331.7"/>
</g>
<g stroke="#6a6a6a" stroke-width="0.8" fill="none">
<path d="M619.4 332.3H639.6M619.4 330.2V334.3M639.6 330.2V334.3"/>
</g>
<text x="565" y="4.9" text-anchor="middle" class="nl">OF</text>
<text x="535.5" y="50" text-anchor="middle" class="nl">FM</text>
<text x="488.7" y="223.8" text-anchor="middle" class="nl">WB</text>
<text x="678" y="221" text-anchor="middle" class="nl">SA</text>
<text x="594.8" y="272" text-anchor="middle" class="nl">AR</text>
<text x="433.2" y="344.2" text-anchor="middle" class="nl">TB</text>
<text x="641" y="335.8" style="font-size:5.7px;fill:#6a6a6a;font-style:italic">0.01</text>
</svg>
</body></html>
